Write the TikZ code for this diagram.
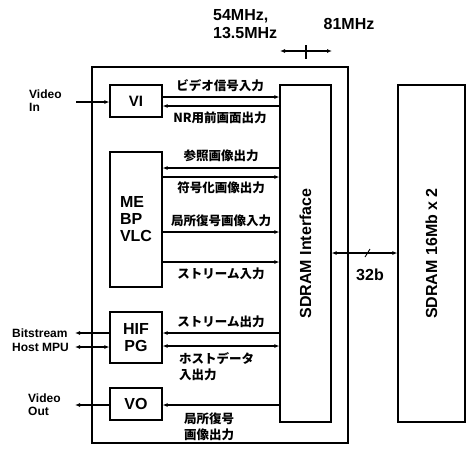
\documentclass[tikz,border=0pt]{standalone}
\usepackage{fontspec}
\setmainfont{Liberation Sans}
\newfontfamily\jp{Noto Sans CJK JP}
\usetikzlibrary{arrows.meta}
\begin{document}
\begin{tikzpicture}[x=1pt,y=-1pt,
  box/.style={draw,line width=1.2pt,inner sep=0pt,minimum width=52pt},
  lab/.style={inner sep=0pt,font=\bfseries\fontsize{12}{13}\selectfont},
  jlab/.style={inner sep=0pt,font=\jp\bfseries\fontsize{12.5}{16}\selectfont},
  btxt/.style={font=\bfseries\fontsize{16}{17}\selectfont},
  arr/.style={line width=1.1pt,-{Latex[length=5pt,width=4pt]}},
  darr/.style={line width=1.1pt,{Latex[length=5pt,width=4pt]}-{Latex[length=5pt,width=4pt]}}]
\useasboundingbox (0,0) rectangle (468,448);
% outer box
\node[draw,line width=1.2pt,inner sep=0pt,minimum width=256pt,minimum height=376pt] (outer) at (220,255) {};
% blocks
\node[box,minimum height=32pt,btxt,font=\bfseries\fontsize{15}{16}\selectfont] (vi) at (136,101) {VI};
\node[box,minimum height=135pt,btxt,align=left] (me) at (136,219.5) {ME\\BP\\VLC};
\node[box,minimum height=51pt,btxt,align=center] (hif) at (136,337.5) {HIF\\PG};
\node[box,minimum height=32pt,btxt] (vo) at (136,404) {VO};
\node[box,minimum width=51pt,minimum height=337pt] (sif) at (305.5,253.5) {};
\node[rotate=90,btxt] at (sif.center) {SDRAM Interface};
\node[box,minimum width=67pt,minimum height=337pt] (sdram) at (431.5,253.5) {};
\node[rotate=90,btxt] at (sdram.center) {SDRAM 16Mb x 2};
% frequency
\node[anchor=west,inner sep=0pt,align=left,font=\bfseries\fontsize{16}{18}\selectfont] (f1) at (213,24) {54MHz,\\13.5MHz};
\node[inner sep=0pt,font=\bfseries\fontsize{16}{18}\selectfont] (f2) at (349,24) {81MHz};
\coordinate (fa) at (280,51);
\coordinate (fb) at (332,51);
\coordinate (ft) at (306,45);
\coordinate (fu) at (306,59);
\draw[darr] (fa) -- (fb);
\draw[line width=1.2pt] (ft) -- (fu);
% VI arrows
\draw[arr] (vi.east |- 0,97) -- (sif.west |- 0,97);
\draw[arr] (sif.west |- 0,106) -- (vi.east |- 0,106);
\node[jlab] at (220,86) {ビデオ信号入力};
\node[jlab] at (220,118) {NR用前画面出力};
% ME arrows
\draw[arr] (sif.west |- 0,168) -- (me.east |- 0,168);
\draw[arr] (me.east |- 0,177) -- (sif.west |- 0,177);
\draw[arr] (me.east |- 0,232) -- (sif.west |- 0,232);
\draw[arr] (me.east |- 0,262) -- (sif.west |- 0,262);
\node[jlab] at (221,156) {参照画像出力};
\node[jlab] at (221,188) {符号化画像出力};
\node[jlab] at (221,221) {局所復号画像入力};
\node[jlab] at (221,274) {ストリーム入力};
% HIF arrows
\draw[arr] (sif.west |- 0,333) -- (hif.east |- 0,333);
\draw[darr] (hif.east |- 0,346) -- (sif.west |- 0,346);
\node[jlab] at (221,322) {ストリーム出力};
\node[jlab,anchor=west,align=left] at (179,367) {ホストデータ\\入出力};
% VO arrow
\draw[arr] (sif.west |- 0,405) -- (vo.east |- 0,405);
\node[jlab,anchor=west,align=left] at (184,427) {局所復号\\画像出力};
% SDRAM bus
\draw[darr] (sif.east |- 0,253) -- (sdram.west |- 0,253);
\coordinate (s1) at (365,257);
\coordinate (s2) at (370,249);
\draw[line width=0.9pt] (s1) -- (s2);
\node[btxt,inner sep=0pt] at (370,275) {32b};
% external I/O
\node[lab,anchor=west,align=left] (vin) at (29,101) {Video\\In};
\coordinate (vinp) at (76,102);
\draw[arr] (vinp) -- (vi.west |- vinp);
\node[lab,anchor=west] (bs) at (12,333) {Bitstream};
\coordinate (bsp) at (75,333);
\draw[arr] (hif.west |- bsp) -- (bsp);
\node[lab,anchor=west] (mpu) at (12,347) {Host MPU};
\coordinate (mpup) at (75,347);
\draw[darr] (hif.west |- mpup) -- (mpup);
\node[lab,anchor=west,align=left] (vout) at (28,405) {Video\\Out};
\coordinate (voutp) at (75,405);
\draw[arr] (vo.west |- voutp) -- (voutp);
\end{tikzpicture}
\end{document}
